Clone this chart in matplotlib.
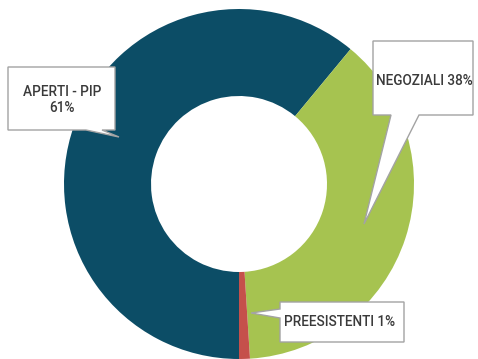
import matplotlib
matplotlib.use("Agg")
import matplotlib.pyplot as plt
from matplotlib.patches import Polygon

# fund categories and their share (%)
categories = ["APERTI - PIP", "NEGOZIALI", "PREESISTENTI"]
shares = [61, 38, 1]
colors = ["#0c4d66", "#a6c350", "#c5504b"]

W, H = 478, 359
fig = plt.figure(figsize=(W / 100, H / 100), dpi=100)
ax = fig.add_axes([0, 0, 1, 1])
ax.set_xlim(0, W)
ax.set_ylim(0, H)
ax.set_aspect("equal")
ax.axis("off")


def py(y):
    # pixel rows measured from the top
    return H - y


ax.pie(shares, colors=colors, startangle=-90, counterclock=False,
       center=(239, py(184)), radius=175,
       wedgeprops=dict(width=87, linewidth=0))
ax.set_xlim(0, W)
ax.set_ylim(0, H)


def callout(pts, text, tx, ty, ha="center"):
    poly = Polygon([(x, py(y)) for x, y in pts], closed=True,
                   facecolor="white", edgecolor="#a3a3a3", lw=1.0, zorder=5)
    ax.add_patch(poly)
    ax.text(tx, py(ty), text, ha=ha, va="center", fontsize=9.8,
            family="Roboto", fontweight="medium", color="#3a3a3a",
            linespacing=1.25, zorder=6)


# APERTI - PIP box, tail to the lower right
callout([(8, 67), (115, 67), (115, 130), (102, 130), (119, 137),
         (86, 130), (8, 130)],
        f"{categories[0]}\n{shares[0]}%", 62, 100)

# NEGOZIALI box, tail down into the green wedge
callout([(373, 41), (473, 41), (473, 115), (419, 115), (364, 224),
         (391, 115), (373, 115)],
        f"{categories[1]} {shares[1]}%", 376, 81, ha="left")

# PREESISTENTI box, tail pointing left
callout([(280, 302), (404, 302), (404, 342), (280, 342), (280, 318),
         (251, 313), (280, 309)],
        f"{categories[2]} {shares[2]}%", 284, 322, ha="left")

fig.savefig("out.png", dpi=100)
